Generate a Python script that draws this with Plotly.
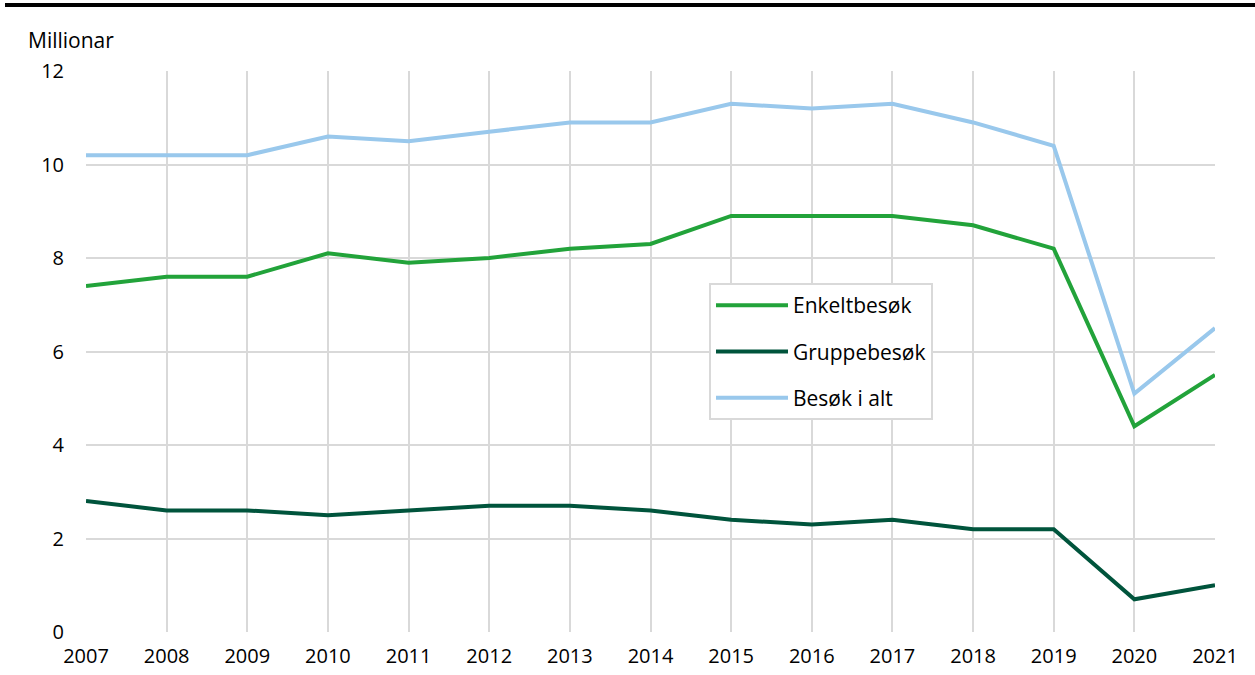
import plotly.graph_objects as go

years = list(range(2007, 2022))
enkelt = [7.4, 7.6, 7.6, 8.1, 7.9, 8.0, 8.2, 8.3, 8.9, 8.9, 8.9, 8.7, 8.2, 4.4, 5.5]
gruppe = [2.8, 2.6, 2.6, 2.5, 2.6, 2.7, 2.7, 2.6, 2.4, 2.3, 2.4, 2.2, 2.2, 0.7, 1.0]
total = [10.2, 10.2, 10.2, 10.6, 10.5, 10.7, 10.9, 10.9, 11.3, 11.2, 11.3, 10.9, 10.4, 5.1, 6.5]

series = [
    ("Enkeltbesøk", enkelt, "#22a33a"),
    ("Gruppebesøk", gruppe, "#00543c"),
    ("Besøk i alt", total, "#99c8ec"),
]

fig = go.Figure()
for i, (name, vals, col) in enumerate(series):
    fig.add_trace(go.Scatter(x=years, y=vals, name=name, mode="lines",
                             legendgroup=f"g{i}",
                             line=dict(color=col, width=4)))

W, H = 1255, 675
L, R, T, B = 86, 40, 71, 43
pw, ph = W - L - R, H - T - B

fig.update_layout(
    width=W, height=H,
    margin=dict(l=L, r=R, t=T, b=B, autoexpand=False),
    paper_bgcolor="white", plot_bgcolor="white",
    font=dict(family="Open Sans", size=20, color="#000000"),
    showlegend=True,
    legend=dict(x=(709 - L) / pw, y=(632 - 283) / ph, xanchor="left", yanchor="top",
                bordercolor="#d9d9d9", borderwidth=2, bgcolor="white",
                font=dict(size=21), tracegroupgap=16, itemwidth=72,
                traceorder="grouped"),
    xaxis=dict(range=[2007, 2021], tickmode="linear", dtick=1, showgrid=True,
               gridcolor="#d9d9d9", gridwidth=2, zeroline=False, showline=False,
               automargin=False,
               ticks="outside", ticklen=6, tickcolor="rgba(0,0,0,0)", tickfont=dict(size=20)),
    yaxis=dict(range=[0, 12], tickmode="linear", dtick=2, showgrid=True,
               gridcolor="#d9d9d9", gridwidth=2, zeroline=False, showline=False,
               automargin=False,
               ticks="outside", ticklen=17, tickcolor="rgba(0,0,0,0)", tickfont=dict(size=20)),
    annotations=[dict(text="Millionar", xref="paper", yref="paper",
                      x=(26 - L) / pw, y=(632 - 40) / ph, xanchor="left", yanchor="middle",
                      showarrow=False, font=dict(size=21))],
    shapes=[dict(type="line", xref="paper", yref="paper",
                 x0=(5 - L) / pw, x1=(W - L) / pw, y0=(632 - 5) / ph, y1=(632 - 5) / ph,
                 line=dict(color="black", width=4))],
)

fig.write_html("out.html", config={"displayModeBar": False},
               post_script="document.body.style.margin='0';document.body.style.overflow='hidden';")
